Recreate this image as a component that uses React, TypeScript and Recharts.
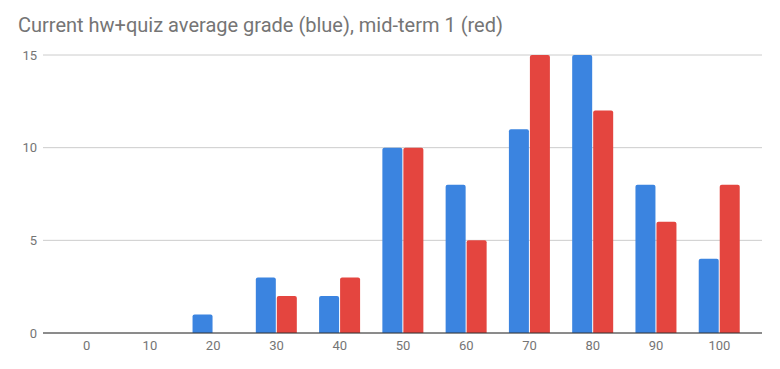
import React from 'react';
import { BarChart, Bar, XAxis, YAxis, CartesianGrid } from 'recharts';

// bins of the grade histogram
const grades = ['0', '10', '20', '30', '40', '50', '60', '70', '80', '90', '100'];
const hwQuiz = [0, 0, 1, 3, 2, 10, 8, 11, 15, 8, 4];
const midterm1 = [0, 0, 0, 2, 3, 10, 5, 15, 12, 6, 8];
const yTicks = [0, 5, 10, 15];

const data = grades.map((g, i) => ({ grade: g, hw: hwQuiz[i], mid: midterm1[i] }));

const tickStyle = { fill: '#757575', fontSize: 13, fontFamily: 'Roboto' };

export default function App() {
  return (
    <div style={{ position: 'absolute', left: 0, top: 0, width: 780, height: 369, background: '#fff' }}>
      <div
        style={{
          position: 'absolute',
          left: 18,
          top: 13,
          fontFamily: 'Roboto',
          fontSize: 20,
          color: '#757575',
          whiteSpace: 'nowrap',
        }}
      >
        Current hw+quiz average grade (blue), mid-term 1 (red)
      </div>
      <BarChart
        width={780}
        height={369}
        data={data}
        margin={{ top: 55, right: 18, bottom: 6, left: 0 }}
        barSize={20}
        barGap={1}
      >
        <CartesianGrid vertical={false} stroke="#cccccc" />
        <XAxis
          dataKey="grade"
          tickLine={false}
          axisLine={{ stroke: '#333333' }}
          tick={tickStyle}
          height={30}
          padding={{ left: 12, right: 11 }}
          interval={0}
        />
        <YAxis
          domain={[0, 15]}
          ticks={yTicks}
          tickLine={false}
          axisLine={false}
          tick={tickStyle}
          width={43}
          tickMargin={0}
        />
        <Bar dataKey="hw" fill="#3b84e0" radius={[2, 2, 0, 0]} isAnimationActive={false} />
        <Bar dataKey="mid" fill="#e4453f" radius={[2, 2, 0, 0]} isAnimationActive={false} />
      </BarChart>
    </div>
  );
}
